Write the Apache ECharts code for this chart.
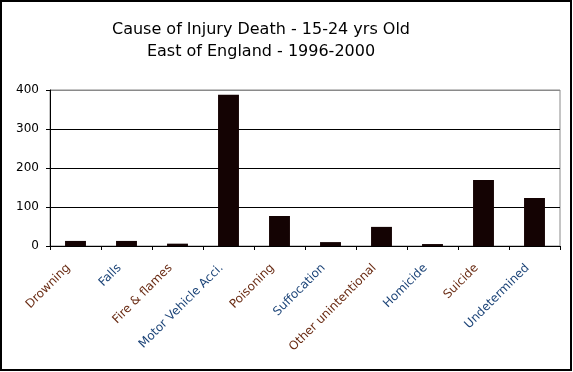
<!DOCTYPE html>
<html>
<head>
<meta charset="utf-8">
<script src="https://cdn.jsdelivr.net/npm/echarts@6/dist/echarts.min.js"></script>
<style>
html,body{margin:0;padding:0;background:#fff;}
#chart{width:573px;height:372px;}
</style>
</head>
<body>
<div id="chart"></div>
<script>
var categories = ["Drowning", "Falls", "Fire & flames", "Motor Vehicle Acci.", "Poisoning", "Suffocation", "Other unintentional", "Homicide", "Suicide", "Undetermined"];
var deaths = [13, 13, 6, 388, 77, 10, 49, 5, 169, 123];
var yTicks = [0, 100, 200, 300, 400];
var labelColors = ["#6a2c14", "#1c4478"];

var chart = echarts.init(document.getElementById('chart'), null, {renderer: 'canvas'});
chart.setOption({
  animation: false,
  backgroundColor: '#fff',
  title: {
    text: 'Cause of Injury Death - 15-24 yrs Old\nEast of England - 1996-2000',
    left: 256,
    top: 14,
    textAlign: 'center',
    textStyle: {fontFamily: 'DejaVu Sans', fontSize: 16, fontWeight: 'normal', color: '#000', lineHeight: 22}
  },
  grid: {left: 50, right: 13, top: 90, bottom: 126, show: true, borderColor: '#8a8a8a', borderWidth: 1, containLabel: false},
  xAxis: {
    type: 'category',
    data: categories,
    axisLine: {lineStyle: {color: '#000', width: 1}},
    axisTick: {show: true, length: 4, lineStyle: {color: '#000'}},
    axisLabel: {
      rotate: 45,
      interval: 0,
      margin: 13,
      padding: [0, 10, 0, 0],
      fontFamily: 'DejaVu Sans',
      fontSize: 12,
      color: function (v, i) { return labelColors[i % 2]; }
    }
  },
  yAxis: {
    type: 'value',
    min: yTicks[0],
    max: yTicks[yTicks.length - 1],
    interval: yTicks[1] - yTicks[0],
    axisLine: {show: true, lineStyle: {color: '#000', width: 1}},
    axisTick: {show: true, length: 4, lineStyle: {color: '#000'}},
    axisLabel: {fontFamily: 'DejaVu Sans', fontSize: 12, color: '#000', margin: 11},
    splitLine: {show: true, lineStyle: {color: ['#000', '#000', '#000', '#000', '#8a8a8a'], width: 1}}
  },
  series: [{
    type: 'bar',
    data: deaths,
    barWidth: '41%',
    itemStyle: {color: '#140303'}
  }],
  graphic: [{
    type: 'rect',
    shape: {x: 1, y: 1, width: 570, height: 369},
    style: {fill: 'none', stroke: '#000', lineWidth: 2},
    silent: true
  }]
});
</script>
</body>
</html>
